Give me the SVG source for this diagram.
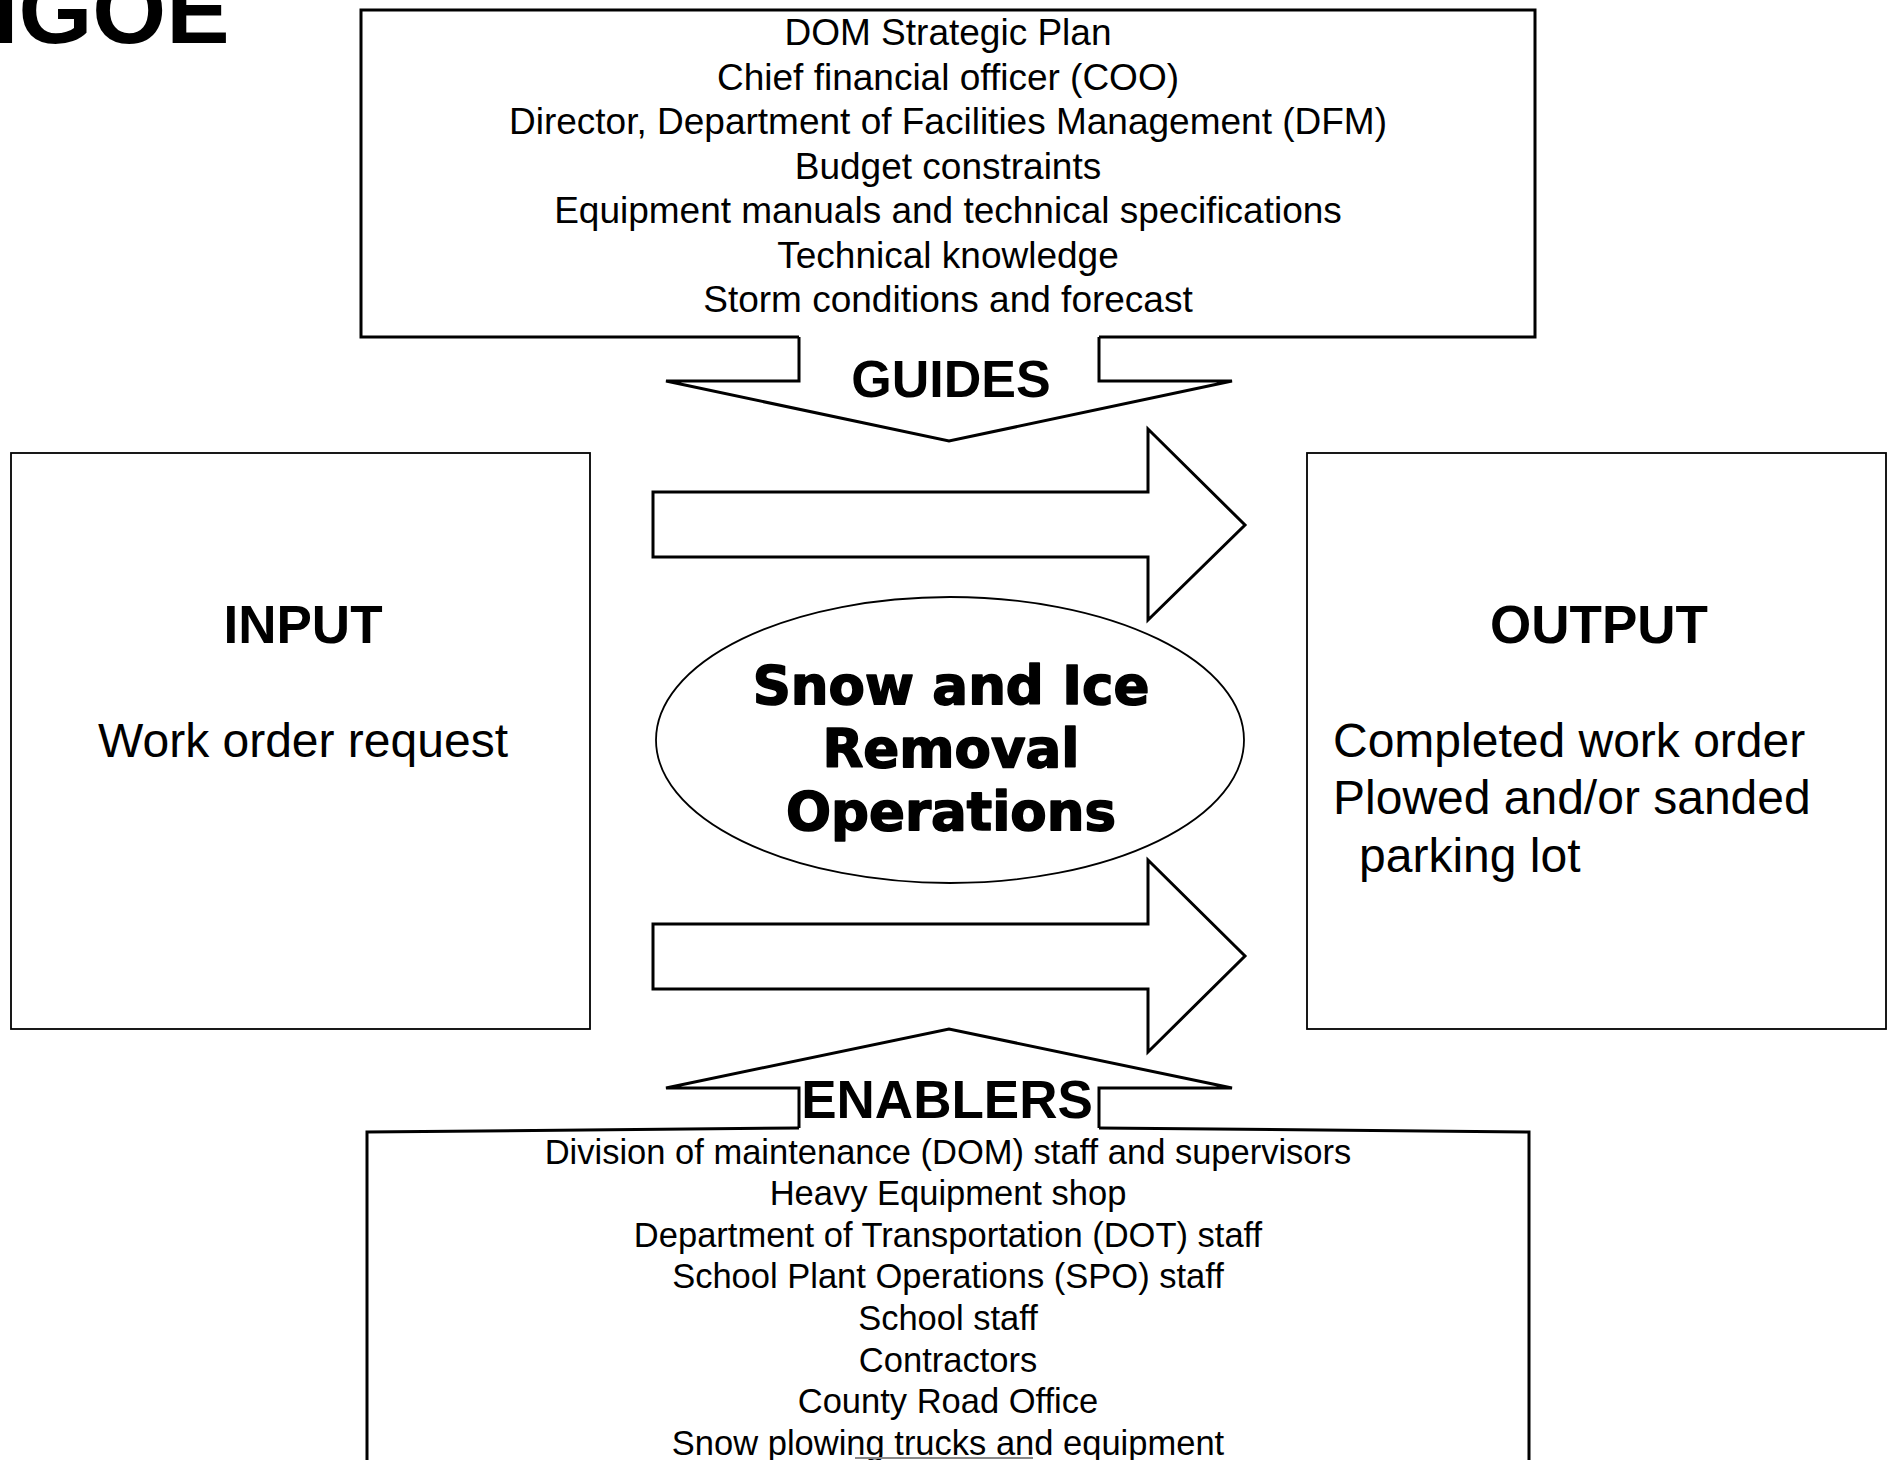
<svg xmlns="http://www.w3.org/2000/svg" width="1895" height="1460" viewBox="0 0 1895 1460">
<style>
.ln{fill:none;stroke:#000;stroke-linejoin:miter}
.thick{stroke-width:3}
.thin{stroke-width:1.8}
.t{font-family:"Liberation Sans",Arial,Helvetica,sans-serif;fill:#000}
.b{font-weight:bold}
.c{text-anchor:middle}
.blk{font-family:"DejaVu Sans","Liberation Sans",sans-serif;font-weight:bold;fill:#000;stroke:#000;stroke-width:1.6;stroke-linejoin:round;text-anchor:middle}
</style>
<rect x="0" y="0" width="1895" height="1460" fill="#fff"/>
<text class="t b" x="-8" y="43" font-size="95">IGOE</text>

<g id="guides">
<path class="ln thick" d="M799,337 H361 V10 H1535 V337 H1099"/>
<g class="t c" font-size="37">
<text x="948" y="45">DOM Strategic Plan</text>
<text x="948" y="90">Chief financial officer (COO)</text>
<text x="948" y="134">Director, Department of Facilities Management (DFM)</text>
<text x="948" y="179">Budget constraints</text>
<text x="948" y="223">Equipment manuals and technical specifications</text>
<text x="948" y="268">Technical knowledge</text>
<text x="948" y="312">Storm conditions and forecast</text>
</g>
</g>

<g id="input">
<rect class="ln thin" x="11" y="453" width="579" height="576"/>
<text class="t b c" x="303" y="643" font-size="53">INPUT</text>
<text class="t c" x="303" y="757" font-size="48">Work order request</text>
</g>

<g id="output">
<rect class="ln thin" x="1307" y="453" width="579" height="576"/>
<text class="t b c" x="1599" y="643" font-size="53">OUTPUT</text>
<g class="t" font-size="48">
<text x="1333" y="757">Completed work order</text>
<text x="1333" y="814">Plowed and/or sanded</text>
<text x="1359" y="872">parking lot</text>
</g>
</g>

<g id="process">
<ellipse class="ln thin" cx="950" cy="740" rx="294" ry="143"/>
<g class="blk" font-size="53">
<text x="951" y="704">Snow and Ice</text>
<text x="951" y="767">Removal</text>
<text x="951" y="830">Operations</text>
</g>
</g>

<g id="enablers">
<path class="ln thick" d="M799,1128 L367,1132 V1462 M1099,1128 L1529,1132 V1462"/>
<g class="t c" font-size="34.5">
<text x="948" y="1164">Division of maintenance (DOM) staff and supervisors</text>
<text x="948" y="1205">Heavy Equipment shop</text>
<text x="948" y="1247">Department of Transportation (DOT) staff</text>
<text x="948" y="1288">School Plant Operations (SPO) staff</text>
<text x="948" y="1330">School staff</text>
<text x="948" y="1372">Contractors</text>
<text x="948" y="1413">County Road Office</text>
<text x="948" y="1455">Snow plowing trucks and equipment</text>
</g>
<line x1="855" y1="1458" x2="1033" y2="1458" stroke="#888" stroke-width="2"/>
</g>

<g id="connectors">
<polyline class="ln thick" points="799,337 799,381 666,381 949,441 1232,381 1099,381 1099,337"/>
<text class="t b c" x="951" y="397" font-size="52">GUIDES</text>
<polygon class="ln thick" points="653,492 1148,492 1148,429 1245,525 1148,620 1148,557 653,557"/>
<polygon class="ln thick" points="653,924 1148,924 1148,860 1245,956 1148,1052 1148,989 653,989"/>
<polyline class="ln thick" points="799,1128 799,1088 666,1088 949,1029 1232,1088 1099,1088 1099,1128"/>
<text class="t b c" x="947" y="1118" font-size="53">ENABLERS</text>
</g>
</svg>
